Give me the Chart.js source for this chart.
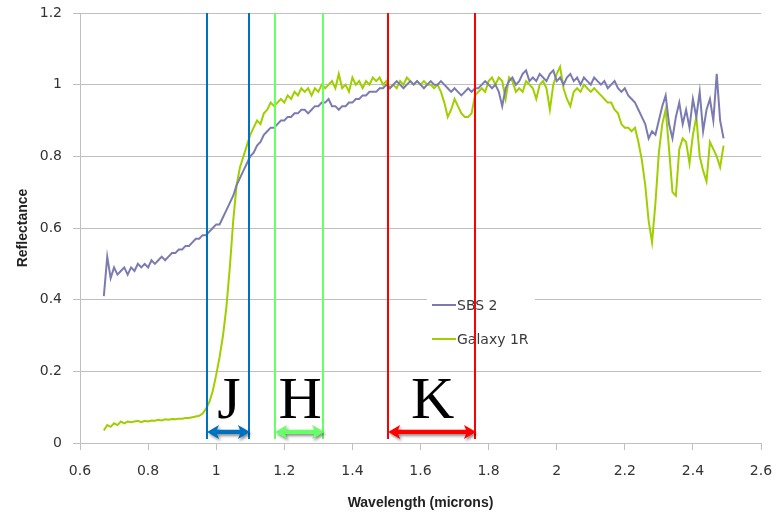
<!DOCTYPE html>
<html>
<head>
<meta charset="utf-8">
<script src="https://cdn.jsdelivr.net/npm/chart.js@4.4.0/dist/chart.umd.min.js"></script>
<style>
  html, body { margin: 0; padding: 0; background: #fff; }
</style>
</head>
<body>
<canvas id="chart" width="778" height="514"></canvas>
<script>
// wavelength grid (microns)
const wavelength = [
  0.67, 0.68, 0.69,
  0.70, 0.71, 0.72, 0.73, 0.74, 0.75, 0.76, 0.77, 0.78, 0.79,
  0.80, 0.81, 0.82, 0.83, 0.84, 0.85, 0.86, 0.87, 0.88, 0.89,
  0.90, 0.91, 0.92, 0.93, 0.94, 0.95, 0.96, 0.97, 0.98, 0.99,
  1.00, 1.01, 1.02, 1.03, 1.04, 1.05, 1.06, 1.07, 1.08, 1.09,
  1.10, 1.11, 1.12, 1.13, 1.14, 1.15, 1.16, 1.17, 1.18, 1.19,
  1.20, 1.21, 1.22, 1.23, 1.24, 1.25, 1.26, 1.27, 1.28, 1.29,
  1.30, 1.31, 1.32, 1.33, 1.34, 1.35, 1.36, 1.37, 1.38, 1.39,
  1.40, 1.41, 1.42, 1.43, 1.44, 1.45, 1.46, 1.47, 1.48, 1.49,
  1.50, 1.51, 1.52, 1.53, 1.54, 1.55, 1.56, 1.57, 1.58, 1.59,
  1.60, 1.61, 1.62, 1.63, 1.64, 1.65, 1.66, 1.67, 1.68, 1.69,
  1.70, 1.71, 1.72, 1.73, 1.74, 1.75, 1.76, 1.77, 1.78, 1.79,
  1.80, 1.81, 1.82, 1.83, 1.84, 1.85, 1.86, 1.87, 1.88, 1.89,
  1.90, 1.91, 1.92, 1.93, 1.94, 1.95, 1.96, 1.97, 1.98, 1.99,
  2.00, 2.01, 2.02, 2.03, 2.04, 2.05, 2.06, 2.07, 2.08, 2.09,
  2.10, 2.11, 2.12, 2.13, 2.14, 2.15, 2.16, 2.17, 2.18, 2.19,
  2.20, 2.21, 2.22, 2.23, 2.24, 2.25, 2.26, 2.27, 2.28, 2.29,
  2.30, 2.31, 2.32, 2.33, 2.34, 2.35, 2.36, 2.37, 2.38, 2.39,
  2.40, 2.41, 2.42, 2.43, 2.44, 2.45, 2.46, 2.47, 2.48, 2.49
];

const sbs2 = [
  0.41, 0.52, 0.46,
  0.49, 0.47, 0.48, 0.49, 0.47, 0.49, 0.48, 0.50, 0.49, 0.50,
  0.49, 0.51, 0.50, 0.51, 0.52, 0.51, 0.52, 0.53, 0.53, 0.54,
  0.54, 0.55, 0.55, 0.56, 0.57, 0.57, 0.58, 0.58, 0.59, 0.60,
  0.61, 0.61, 0.63, 0.65, 0.67, 0.69, 0.72, 0.74, 0.76, 0.78,
  0.80, 0.81, 0.83, 0.84, 0.86, 0.87, 0.88, 0.88, 0.89, 0.90,
  0.90, 0.91, 0.91, 0.92, 0.92, 0.93, 0.93, 0.92, 0.93, 0.94,
  0.94, 0.95, 0.95, 0.96, 0.94, 0.94, 0.93, 0.94, 0.94, 0.95,
  0.95, 0.96, 0.96, 0.97, 0.97, 0.98, 0.98, 0.98, 0.99, 0.99,
  1.00, 0.99, 1.00, 1.01, 1.00, 0.99, 1.00, 1.01, 1.00, 1.01,
  1.00, 0.99, 1.00, 1.01, 1.00, 1.00, 1.01, 1.00, 0.99, 0.98,
  0.99, 0.98, 0.97, 0.98, 0.99, 0.98, 0.99, 0.99, 1.00, 1.01,
  1.00, 0.99, 1.00, 0.98, 0.94, 0.99, 1.01, 1.02, 1.00, 1.01,
  1.03, 1.04, 1.01, 1.02, 1.01, 1.03, 1.02, 1.01, 1.03, 1.04,
  1.01, 1.02, 1.00, 1.02, 1.03, 1.01, 1.02, 1.00, 1.02, 1.01,
  1.00, 1.02, 1.01, 1.00, 1.01, 0.99, 1.00, 1.01, 0.99, 0.98,
  0.99, 0.97, 0.96, 0.95, 0.93, 0.91, 0.89, 0.85, 0.87, 0.86,
  0.90, 0.94, 0.97, 0.89, 0.85, 0.91, 0.95, 0.89, 0.93, 0.88,
  0.96, 0.91, 0.98, 0.87, 0.93, 0.96, 0.90, 1.03, 0.90, 0.85
];

const galaxy1R = [
  0.035, 0.05, 0.045,
  0.055, 0.05, 0.06, 0.055, 0.06, 0.058, 0.06, 0.062, 0.058, 0.062,
  0.06, 0.063, 0.062, 0.065, 0.063, 0.066, 0.065, 0.067, 0.066, 0.068,
  0.068, 0.07, 0.07, 0.072, 0.074, 0.076, 0.082, 0.095, 0.115, 0.145,
  0.19, 0.24, 0.30, 0.38, 0.49, 0.62, 0.72, 0.77, 0.80, 0.83,
  0.86, 0.88, 0.90, 0.89, 0.92, 0.93, 0.95, 0.94, 0.95, 0.96,
  0.95, 0.97, 0.96, 0.98, 0.97, 0.99, 0.98, 0.99, 0.97, 0.99,
  0.98, 1.00, 0.99, 1.00, 1.01, 0.99, 1.03, 0.99, 1.00, 0.98,
  1.02, 1.00, 1.01, 0.99, 1.01, 1.00, 1.02, 1.01, 1.02, 1.00,
  1.01, 0.99, 1.00, 0.99, 1.01, 1.00, 1.02, 1.01, 1.00, 1.01,
  1.00, 1.01, 1.00, 1.00, 0.99, 1.00, 0.98, 0.95, 0.91, 0.93,
  0.96, 0.94, 0.92, 0.91, 0.91, 0.92, 0.97, 0.98, 0.99, 0.98,
  1.01, 1.02, 1.00, 1.02, 1.01, 0.96, 1.02, 1.01, 0.98, 0.99,
  0.98, 1.01, 1.00, 0.99, 0.96, 1.00, 1.01, 0.99, 0.93, 1.00,
  1.03, 1.05, 0.99, 0.96, 0.94, 0.98, 0.99, 0.98, 1.00, 0.99,
  0.98, 0.99, 0.98, 0.97, 0.96, 0.95, 0.95, 0.93, 0.92, 0.89,
  0.88, 0.88, 0.87, 0.88, 0.84, 0.79, 0.72, 0.62, 0.56, 0.67,
  0.81, 0.89, 0.93, 0.82, 0.70, 0.69, 0.82, 0.85, 0.84, 0.78,
  0.86, 0.91, 0.80, 0.76, 0.73, 0.84, 0.82, 0.80, 0.77, 0.83
];

// photometric bands
const bandNames = ["J", "H", "K"];
const bandStart = [0.973, 1.173, 1.505];
const bandEnd = [1.096, 1.314, 1.76];
const bandColors = ["#0070c0", "#66ff66", "#ff0000"];

const seriesNames = ["SBS 2", "Galaxy 1R"];
const seriesColors = ["#7b7bb2", "#a0cf00"];

const fmt = (v) => String(Number(v.toFixed(1)));

const toPoints = (ys) => wavelength.map((x, i) => ({ x: x, y: ys[i] }));

// white legend box inside the plot (drawn before the lines)
const legendBox = {
  id: "legendBox",
  beforeDatasetsDraw(chart) {
    const c = chart.ctx;
    c.save();
    c.fillStyle = "#fff";
    c.fillRect(427, 286, 108, 66);
    c.font = "14px 'DejaVu Sans'";
    c.textBaseline = "middle";
    const rows = [305, 339];
    seriesNames.forEach((name, i) => {
      c.strokeStyle = seriesColors[i];
      c.lineWidth = 2;
      c.beginPath();
      c.moveTo(432, rows[i]);
      c.lineTo(456, rows[i]);
      c.stroke();
      c.fillStyle = "#3a3a3a";
      c.fillText(name, 457, rows[i] + 1);
    });
    c.restore();
  }
};

function drawArrow(c, x1, x2, y, color) {
  const head = 12, half = 7, shaft = 2.2;
  c.fillStyle = color;
  c.beginPath();
  c.moveTo(x1, y);
  c.lineTo(x1 + head, y - half);
  c.lineTo(x1 + head - 2, y - shaft);
  c.lineTo(x2 - head + 2, y - shaft);
  c.lineTo(x2 - head, y - half);
  c.lineTo(x2, y);
  c.lineTo(x2 - head, y + half);
  c.lineTo(x2 - head + 2, y + shaft);
  c.lineTo(x1 + head - 2, y + shaft);
  c.lineTo(x1 + head, y + half);
  c.closePath();
  c.fill();
}

const bands = {
  id: "bands",
  afterDatasetsDraw(chart) {
    const c = chart.ctx;
    const xs = chart.scales.x, ys = chart.scales.y;
    const top = chart.chartArea.top;
    const bottom = ys.getPixelForValue(0.011);
    c.save();
    bandNames.forEach((name, i) => {
      const a = xs.getPixelForValue(bandStart[i]);
      const b = xs.getPixelForValue(bandEnd[i]);
      c.strokeStyle = bandColors[i];
      c.lineWidth = 2;
      [a, b].forEach((px) => {
        c.beginPath();
        c.moveTo(Math.round(px), top);
        c.lineTo(Math.round(px), bottom);
        c.stroke();
      });
      const ay = ys.getPixelForValue(0.031);
      c.save();
      c.shadowColor = "rgba(0,0,0,0.45)";
      c.shadowBlur = 3;
      c.shadowOffsetX = 1.5;
      c.shadowOffsetY = 2;
      drawArrow(c, a, b + 1, ay, bandColors[i]);
      c.restore();
      c.fillStyle = "#000";
      c.font = "60px 'Liberation Serif'";
      c.textAlign = "center";
      c.textBaseline = "alphabetic";
      c.fillText(name, (a + b) / 2 + 1, ys.getPixelForValue(0.07));
    });
    c.restore();
  }
};

const gridGray = "#bfbfbf";

new Chart(document.getElementById("chart"), {
  type: "line",
  data: {
    datasets: [
      {
        label: seriesNames[0],
        data: toPoints(sbs2),
        borderColor: seriesColors[0],
        borderWidth: 2,
        pointRadius: 0,
        tension: 0
      },
      {
        label: seriesNames[1],
        data: toPoints(galaxy1R),
        borderColor: seriesColors[1],
        borderWidth: 2,
        pointRadius: 0,
        tension: 0
      }
    ]
  },
  options: {
    responsive: false,
    animation: false,
    devicePixelRatio: 1,
    layout: { padding: { top: 13, right: 17, left: 0, bottom: 0 } },
    plugins: {
      legend: { display: false },
      tooltip: { enabled: false }
    },
    scales: {
      x: {
        type: "linear",
        min: 0.6,
        max: 2.6,
        afterFit: (s) => { s.height = 71; s.paddingLeft = 0; s.paddingRight = 0; },
        ticks: {
          stepSize: 0.2,
          callback: fmt,
          color: "#333",
          padding: 13,
          maxRotation: 0,
          font: { family: "DejaVu Sans", size: 14 }
        },
        grid: {
          drawOnChartArea: false,
          drawTicks: true,
          tickLength: 7,
          color: gridGray
        },
        border: { display: true, color: gridGray },
        title: {
          display: true,
          text: "Wavelength (microns)",
          color: "#222",
          padding: { top: 0, bottom: 2 },
          font: { family: "Liberation Sans", size: 14, weight: "bold" }
        }
      },
      y: {
        min: 0,
        max: 1.2,
        afterFit: (s) => { s.width = 80; s.paddingTop = 0; s.paddingBottom = 0; },
        ticks: {
          stepSize: 0.2,
          callback: fmt,
          color: "#333",
          padding: 11,
          font: { family: "DejaVu Sans", size: 14 }
        },
        grid: {
          color: gridGray,
          drawTicks: true,
          tickLength: 7
        },
        border: { display: true, color: gridGray },
        title: {
          display: true,
          text: "Reflectance",
          color: "#222",
          padding: { top: 15, bottom: 0 },
          font: { family: "Liberation Sans", size: 14, weight: "bold" }
        }
      }
    }
  },
  plugins: [legendBox, bands]
});
</script>
</body>
</html>
